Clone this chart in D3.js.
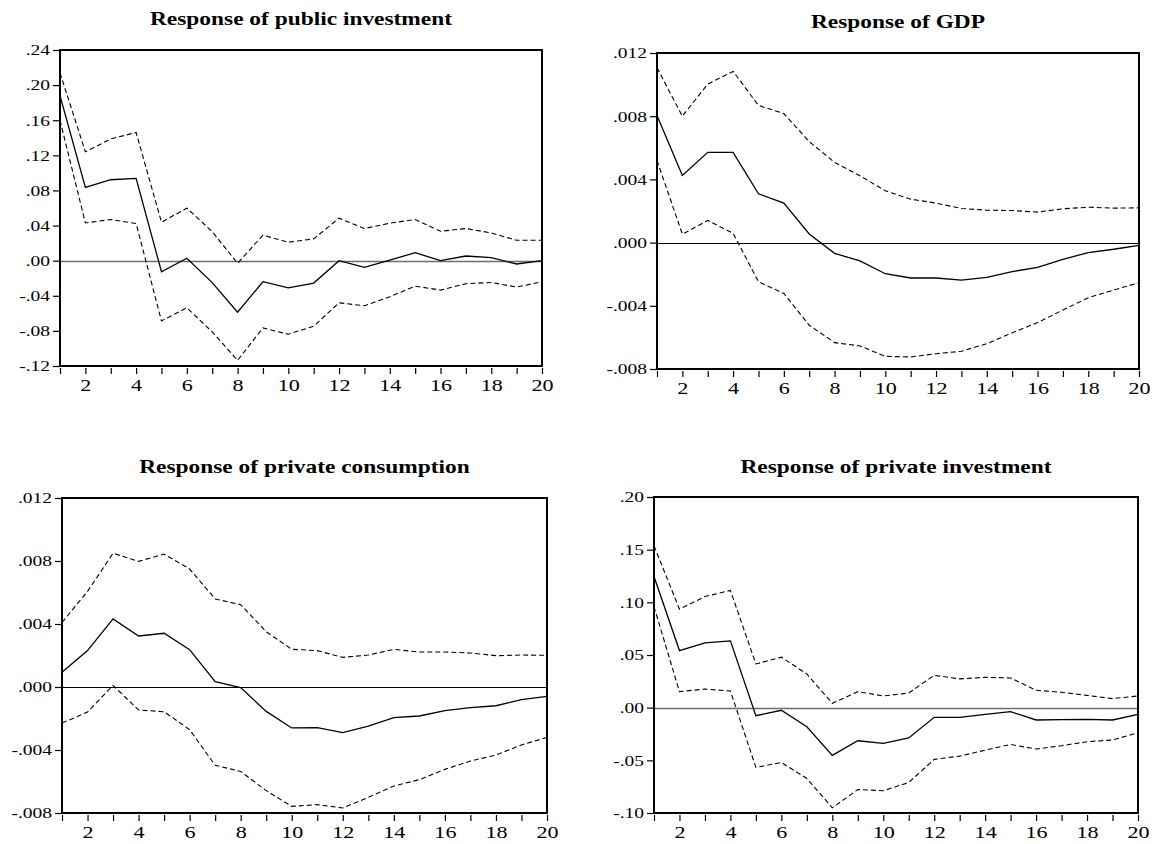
<!DOCTYPE html>
<html><head><meta charset="utf-8">
<script src="https://cdn.jsdelivr.net/npm/d3@7"></script>
<style>
body{margin:0;background:#fff}
</style></head>
<body><svg id="c" width="1154" height="844"></svg>
<script>
// ---------------- data ----------------
const periods = d3.range(1, 21);

const titles = [
  "Response of public investment",
  "Response of GDP",
  "Response of private consumption",
  "Response of private investment"
];

// Response of public investment
const pubInvResp  = [0.188,0.0834,0.0922,0.0937,-0.0126,0.0027,-0.025,-0.0587,-0.024,-0.031,-0.0255,0.000,-0.0076,0.0005,0.0091,0.000,0.0053,0.0034,-0.0038,0.000];
const pubInvUpper = [0.214,0.124,0.1387,0.146,0.0438,0.0598,0.0331,-0.003,0.029,0.021,0.0248,0.0484,0.0366,0.0427,0.0469,0.0335,0.0366,0.0316,0.0232,0.0232];
const pubInvLower = [0.160,0.043,0.0469,0.0423,-0.0686,-0.0537,-0.0811,-0.1135,-0.0766,-0.0838,-0.0747,-0.048,-0.0514,-0.0411,-0.029,-0.0335,-0.0263,-0.0248,-0.0301,-0.024];
const pubInvTicks = [-0.12,-0.08,-0.04,0.00,0.04,0.08,0.12,0.16,0.20,0.24];

// Response of GDP
const gdpResp  = [0.00804,0.00425,0.00571,0.00571,0.00309,0.0025,0.00055,-0.00068,-0.00116,-0.00197,-0.00224,-0.00224,-0.00237,-0.0022,-0.00184,-0.00157,-0.00106,-0.00063,-0.00042,-0.00017];
const gdpUpper = [0.01107,0.0080,0.01003,0.01084,0.00868,0.00817,0.00639,0.00508,0.00423,0.00328,0.00275,0.0025,0.00216,0.00205,0.00203,0.00193,0.00214,0.00224,0.00218,0.0022];
const gdpLower = [0.0052,0.00053,0.0014,0.00059,-0.00248,-0.00322,-0.00523,-0.00633,-0.00654,-0.0072,-0.00724,-0.00703,-0.00688,-0.0064,-0.00571,-0.00506,-0.00427,-0.00349,-0.0030,-0.00254];
const gdpTicks = [-0.008,-0.004,0.000,0.004,0.008,0.012];

// Response of private consumption
const consResp  = [0.00093,0.00231,0.00432,0.00324,0.00341,0.00237,0.00034,-0.00004,-0.00155,-0.0026,-0.00258,-0.0029,-0.00248,-0.00195,-0.00184,-0.0015,-0.00131,-0.00119,-0.0008,-0.00059];
const consUpper = [0.0041,0.00607,0.00849,0.00798,0.00844,0.00749,0.00559,0.00523,0.00351,0.00239,0.00231,0.00188,0.00203,0.00239,0.00222,0.00222,0.00216,0.00199,0.00203,0.00201];
const consLower = [-0.00229,-0.00159,0.0001,-0.00146,-0.00157,-0.00271,-0.00497,-0.00536,-0.00658,-0.00758,-0.00747,-0.00768,-0.00701,-0.00629,-0.00588,-0.00523,-0.0047,-0.00432,-0.00368,-0.0032];
const consTicks = [-0.008,-0.004,0.000,0.004,0.008,0.012];

// Response of private investment
const privInvResp  = [0.1246,0.0542,0.0615,0.0634,-0.0076,-0.0025,-0.0181,-0.0453,-0.0314,-0.0339,-0.0288,-0.0092,-0.0092,-0.0063,-0.0038,-0.0117,-0.0114,-0.0111,-0.0117,-0.0063];
const privInvUpper = [0.1537,0.0935,0.1055,0.1113,0.0415,0.0479,0.032,0.0041,0.0152,0.0111,0.0139,0.0307,0.0273,0.0288,0.0282,0.0165,0.0146,0.0117,0.0086,0.0111];
const privInvLower = [0.096,0.0152,0.0177,0.0158,-0.0567,-0.052,-0.0672,-0.0951,-0.0777,-0.0789,-0.071,-0.0491,-0.046,-0.0403,-0.0349,-0.0393,-0.0361,-0.0323,-0.0307,-0.0238];
const privInvTicks = [-0.10,-0.05,0.00,0.05,0.10,0.15,0.20];

const decimals = [2, 3, 3, 2];

// ---------------- layout / style ----------------
const FONT = "Liberation Serif, Times New Roman, serif";
const boxes = [
  {l:60,  r:542,  t:50,  b:366, titleY:25},
  {l:657, r:1139, t:53,  b:369, titleY:28},
  {l:62,  r:547,  t:498, b:813, titleY:473},
  {l:654, r:1138, t:497, b:813, titleY:473}
];
const zeroStyle = [
  {stroke:"#6e6e6e", w:1.6},
  {stroke:"#000", w:1},
  {stroke:"#000", w:1},
  {stroke:"#6e6e6e", w:1.6}
];
const S = 1.3; // horizontal stretch of the original image text

const panels = [
  {resp:pubInvResp,  up:pubInvUpper,  lo:pubInvLower,  ticks:pubInvTicks},
  {resp:gdpResp,     up:gdpUpper,     lo:gdpLower,     ticks:gdpTicks},
  {resp:consResp,    up:consUpper,    lo:consLower,    ticks:consTicks},
  {resp:privInvResp, up:privInvUpper, lo:privInvLower, ticks:privInvTicks}
];

const svg = d3.select("#c");

panels.forEach((p, i) => {
  const bx = boxes[i];
  const x = d3.scaleLinear().domain([1, 20]).range([bx.l, bx.r]);
  const y = d3.scaleLinear().domain([d3.min(p.ticks), d3.max(p.ticks)]).range([bx.b, bx.t]);
  const g = svg.append("g").attr("font-family", FONT);

  const fmt = v => {
    const s = Math.abs(v).toFixed(decimals[i]).replace(/^0\./, ".");
    return (v < -1e-12 ? "-" : "") + s;
  };

  // y axis
  const tl = 7, tp = 3;
  const ya = g.append("g").attr("transform", `translate(${bx.l},0)`)
    .call(d3.axisLeft(y).tickValues(p.ticks).tickSize(tl).tickPadding(tp).tickFormat(fmt));
  ya.attr("font-family", FONT).attr("font-size", 15);
  ya.select(".domain").remove();
  ya.selectAll(".tick line").attr("stroke", "#000").attr("stroke-width", 1.2);
  ya.selectAll(".tick text")
    .attr("font-family", FONT).attr("font-size", 15).attr("fill", "#000")
    .attr("transform", `translate(${-(tl + tp)},0) scale(${S},1) translate(${tl + tp},0)`);

  // x axis
  const xa = g.append("g").attr("transform", `translate(0,${bx.b + 2})`)
    .call(d3.axisBottom(x).tickValues(periods).tickSize(6).tickPadding(5)
      .tickFormat(d => d % 2 === 0 ? String(d) : ""));
  xa.attr("font-family", FONT).attr("font-size", 17);
  xa.select(".domain").remove();
  xa.selectAll(".tick line").attr("stroke", "#000").attr("stroke-width", 1.2);
  xa.selectAll(".tick text")
    .attr("font-family", FONT).attr("font-size", 17).attr("fill", "#000")
    .attr("transform", `scale(${S},1)`);

  // zero line
  const zy = Math.round(y(0)) + 0.5;
  g.append("line")
    .attr("x1", bx.l).attr("x2", bx.r)
    .attr("y1", zy).attr("y2", zy)
    .attr("stroke", zeroStyle[i].stroke).attr("stroke-width", zeroStyle[i].w);

  const line = d3.line().x((d, k) => x(periods[k])).y(d => y(d));

  [p.up, p.lo].forEach(arr => {
    g.append("path").datum(arr).attr("d", line)
      .attr("fill", "none").attr("stroke", "#000").attr("stroke-width", 1.1)
      .attr("stroke-dasharray", "5,3");
  });
  g.append("path").datum(p.resp).attr("d", line)
    .attr("fill", "none").attr("stroke", "#000").attr("stroke-width", 1.3);

  // frame
  g.append("rect")
    .attr("x", bx.l).attr("y", bx.t)
    .attr("width", bx.r - bx.l).attr("height", bx.b - bx.t)
    .attr("fill", "none").attr("stroke", "#000").attr("stroke-width", 2);

  // title
  const cx = (bx.l + bx.r) / 2;
  g.append("text")
    .attr("x", cx).attr("y", bx.titleY)
    .attr("text-anchor", "middle")
    .attr("font-family", FONT)
    .attr("font-size", 18).attr("font-weight", "bold").attr("fill", "#000")
    .attr("transform", `translate(${cx},0) scale(${S},1) translate(${-cx},0)`)
    .text(titles[i]);
});
</script>
</body></html>
